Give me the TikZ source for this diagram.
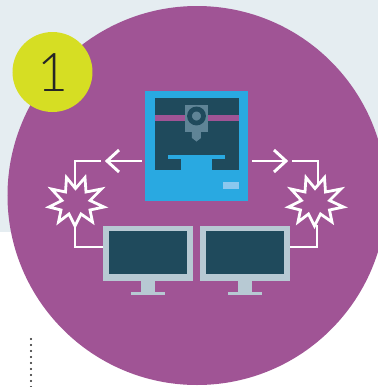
\documentclass[tikz,border=0pt]{standalone}
\usepackage{fontspec}
\usetikzlibrary{positioning}
\newfontfamily\numfont{Lato Light}
\definecolor{bandgrey}{HTML}{E5EDF1}
\definecolor{discpurple}{HTML}{A05495}
\definecolor{discyellow}{HTML}{D6DE23}
\definecolor{skyblue}{HTML}{29A9E1}
\definecolor{paleblue}{HTML}{8CC8EE}
\definecolor{darkteal}{HTML}{1F4A5C}
\definecolor{headgrey}{HTML}{5F8496}
\definecolor{framegrey}{HTML}{B7C9D3}
\tikzset{
  wire/.style={draw=white, line width=2.2pt},
  burst/.style={draw=white, line width=2.1pt, miter limit=10, fill=discpurple}
}
\newcommand{\monitor}[1]{%
  \begin{scope}[shift={(#1,0)}]
    \fill[framegrey] (0,226) rectangle (90,281);
    \fill[darkteal] (6,231) rectangle (84,274);
    \fill[framegrey] (38,281) rectangle (52,292);
    \fill[framegrey] (28,292) rectangle (62,295);
  \end{scope}}
\newcommand{\starburst}[1]{%
  \begin{scope}[shift={(#1,0)}]
    \draw[burst] (66.5,177.5) -- (75.5,188.5) -- (85,177.5) -- (86,192) -- (101.5,189) -- (90,200.5) -- (104,207) -- (90,210) -- (92.5,222) -- (81,214) -- (75,226) -- (69,214) -- (58.5,222) -- (61,210) -- (49,207) -- (62,200.5) -- (51.5,189) -- (65.5,192) -- cycle;
  \end{scope}}
\begin{document}
\begin{tikzpicture}[x=0.75pt, y=-0.75pt]
  \useasboundingbox (0,0) rectangle (378,387);

  % background band and big disc
  \begin{scope}
    \clip (0,0) rectangle (378,387);
    \fill[white] (0,0) rectangle (378,387);
    \fill[bandgrey] (0,0) rectangle (378,232);
    \fill[discpurple] (197,195.5) circle [x radius=189.5, y radius=-189.5];
  \end{scope}

  % number badge
  \fill[discyellow] (52.5,72) circle [x radius=40, y radius=-40];
  \node[font=\numfont\fontsize{40}{40}\selectfont, text=black!85, inner sep=0pt] (badge) at (52.5,73) {1};

  % printer
  \fill[skyblue] (145,91) rectangle (248,201);
  \fill[darkteal] (155,98) rectangle (239,170);
  \fill[discpurple] (155,115) rectangle (239,121);
  \fill[headgrey] (185,105) rectangle (208,132);
  \fill[headgrey] (192,132) -- (201,132) -- (201,138) -- (196.5,141.5) -- (192,138) -- cycle;
  \draw[darkteal, line width=3.6pt] (196.5,116) circle [x radius=7, y radius=-7];
  \fill[skyblue] (168,155) rectangle (225,159);
  \fill[skyblue] (181,159) rectangle (212,170);
  \fill[paleblue] (223,182) rectangle (239,189);

  % monitors
  \monitor{103}
  \monitor{200}

  % left branch
  \draw[wire] (142,161) -- (107,161);
  \draw[wire] (119,150) -- (107,161) -- (119,172);
  \draw[wire] (101,161) -- (75,161) -- (75,187);
  \draw[wire] (75,225) -- (75,247) -- (103,247);
  \starburst{0}

  % right branch
  \draw[wire] (252,161) -- (286,161);
  \draw[wire] (274,150) -- (286,161) -- (274,172);
  \draw[wire] (292,161) -- (318,161) -- (318,187);
  \draw[wire] (317,225) -- (317,247) -- (290,247);
  \starburst{239.5}

  % dotted rule
  \foreach \d in {339,345,...,387} {
    \fill[black!85] (31,\d) circle [x radius=1.1, y radius=-1.1];
  }
\end{tikzpicture}
\end{document}
